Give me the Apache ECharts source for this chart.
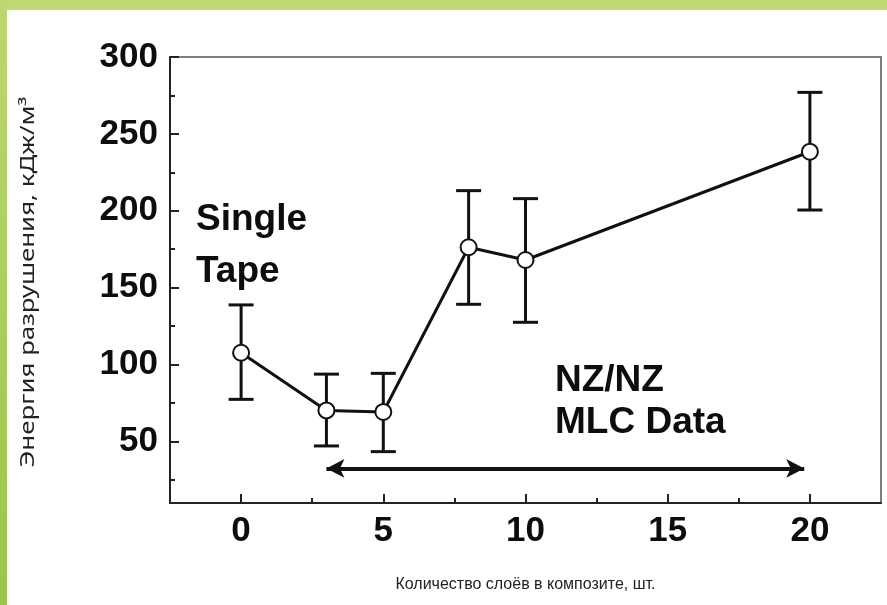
<!DOCTYPE html>
<html>
<head>
<meta charset="utf-8">
<script src="https://cdn.jsdelivr.net/npm/echarts@6/dist/echarts.min.js"></script>
</head>
<body style="margin:0;padding:0;background:#fff;">
<div id="chart" style="width:887px;height:605px;"></div>
<script>
// layers count and fracture energy, kJ/m3
const layers = [0, 3, 5, 8, 10, 20]
const energy = [107.7, 70.2, 69.2, 176.3, 168, 238.4]
const errLow = [77.4, 47.1, 43.4, 139.2, 127.5, 200.5]
const errHigh = [138.8, 93.8, 94.3, 213.1, 207.9, 277]

const xMajor = [0, 5, 10, 15, 20]
const xMinor = [2.5, 7.5, 12.5, 17.5]
const yMajor = [50, 100, 150, 200, 250, 300]
const yMinor = [25, 75, 125, 175, 225, 275]

// MLC range arrow
const arrowFrom = [3, 32.5]
const arrowTo = [19.8, 32.5]

const chart = echarts.init(document.getElementById('chart'))

const bold = 'bold 37px "Liberation Sans", Arial, sans-serif'
const tickFont = { fontFamily: '"Liberation Sans", Arial, sans-serif', fontWeight: 'bold', fontSize: 35, color: '#0d0d0d' }
const tickLine = { color: '#222', width: 2 }

chart.setOption({
  backgroundColor: '#fff',
  animation: false,
  grid: {
    left: 170, top: 57, right: 6, bottom: 102,
    show: true, borderColor: '#555', borderWidth: 1.5
  },
  xAxis: [{
    type: 'value', min: -2.5, max: 22.5,
    name: 'Количество слоёв в композите, шт.',
    nameLocation: 'middle', nameGap: 74,
    nameTextStyle: { fontFamily: '"Liberation Sans", Arial, sans-serif', fontSize: 16, color: '#222' },
    splitLine: { show: false },
    axisLine: { onZero: false, lineStyle: { color: '#222', width: 2 } },
    axisTick: { inside: true, length: 9, customValues: xMajor, lineStyle: tickLine },
    axisLabel: { customValues: xMajor, margin: 11, ...tickFont }
  }, {
    type: 'value', min: -2.5, max: 22.5, position: 'bottom',
    splitLine: { show: false },
    axisLine: { show: false, onZero: false },
    axisTick: { inside: true, length: 5, customValues: xMinor, lineStyle: tickLine },
    axisLabel: { show: false }
  }],
  yAxis: [{
    type: 'value', min: 10, max: 300,
    splitLine: { show: false },
    axisLine: { onZero: false, lineStyle: { color: '#222', width: 2 } },
    axisTick: { inside: true, length: 9, customValues: yMajor, lineStyle: tickLine },
    axisLabel: { customValues: yMajor, margin: 12, ...tickFont }
  }, {
    type: 'value', min: 10, max: 300, position: 'left',
    splitLine: { show: false },
    axisLine: { show: false, onZero: false },
    axisTick: { inside: true, length: 5, customValues: yMinor, lineStyle: tickLine },
    axisLabel: { show: false }
  }],
  graphic: [
    { type: 'rect', shape: { x: 0, y: 0, width: 887, height: 10 }, style: { fill: '#bfd973' }, z: 100 },
    { type: 'rect', shape: { x: 0, y: 0, width: 7, height: 605 },
      style: { fill: new echarts.graphic.LinearGradient(0, 0, 0, 1, [{ offset: 0, color: '#bcd76f' }, { offset: 1, color: '#98c64c' }]) }, z: 100 },
    // y axis title, stretched along its length like the source
    { type: 'text', x: 29, y: 282, rotation: Math.PI / 2, scaleX: 1.36,
      style: { text: 'Энергия разрушения, кДж/м³', font: '19px "Noto Sans", sans-serif', fill: '#222', align: 'center', verticalAlign: 'middle' } },
    { type: 'text', left: 196, top: 201, style: { text: 'Single', font: bold, fill: '#0d0d0d' } },
    { type: 'text', left: 196, top: 253, style: { text: 'Tape', font: bold, fill: '#0d0d0d' } },
    { type: 'text', left: 555, top: 362, style: { text: 'NZ/NZ', font: bold, fill: '#0d0d0d' } },
    { type: 'text', left: 555, top: 404, style: { text: 'MLC Data', font: bold, fill: '#0d0d0d' } }
  ],
  series: [{
    type: 'custom',
    z: 2,
    data: layers.map((x, i) => [x, errLow[i], errHigh[i]]),
    renderItem: (params, api) => {
      const lo = api.coord([api.value(0), api.value(1)])
      const hi = api.coord([api.value(0), api.value(2)])
      const w = 12.5
      const st = { stroke: '#111', lineWidth: 3 }
      return {
        type: 'group',
        children: [
          { type: 'line', shape: { x1: lo[0], y1: lo[1], x2: hi[0], y2: hi[1] }, style: st },
          { type: 'line', shape: { x1: lo[0] - w, y1: lo[1], x2: lo[0] + w, y2: lo[1] }, style: st },
          { type: 'line', shape: { x1: hi[0] - w, y1: hi[1], x2: hi[0] + w, y2: hi[1] }, style: st }
        ]
      }
    }
  }, {
    type: 'line',
    z: 5,
    data: layers.map((x, i) => [x, energy[i]]),
    symbol: 'circle', symbolSize: 16,
    lineStyle: { color: '#111', width: 3 },
    itemStyle: { color: '#fff', borderColor: '#111', borderWidth: 2 },
    markLine: {
      silent: true,
      symbol: ['arrow', 'arrow'], symbolSize: [14, 18],
      lineStyle: { color: '#111', width: 4, type: 'solid' },
      label: { show: false },
      data: [[{ coord: arrowFrom }, { coord: arrowTo }]]
    }
  }]
})
</script>
</body>
</html>
